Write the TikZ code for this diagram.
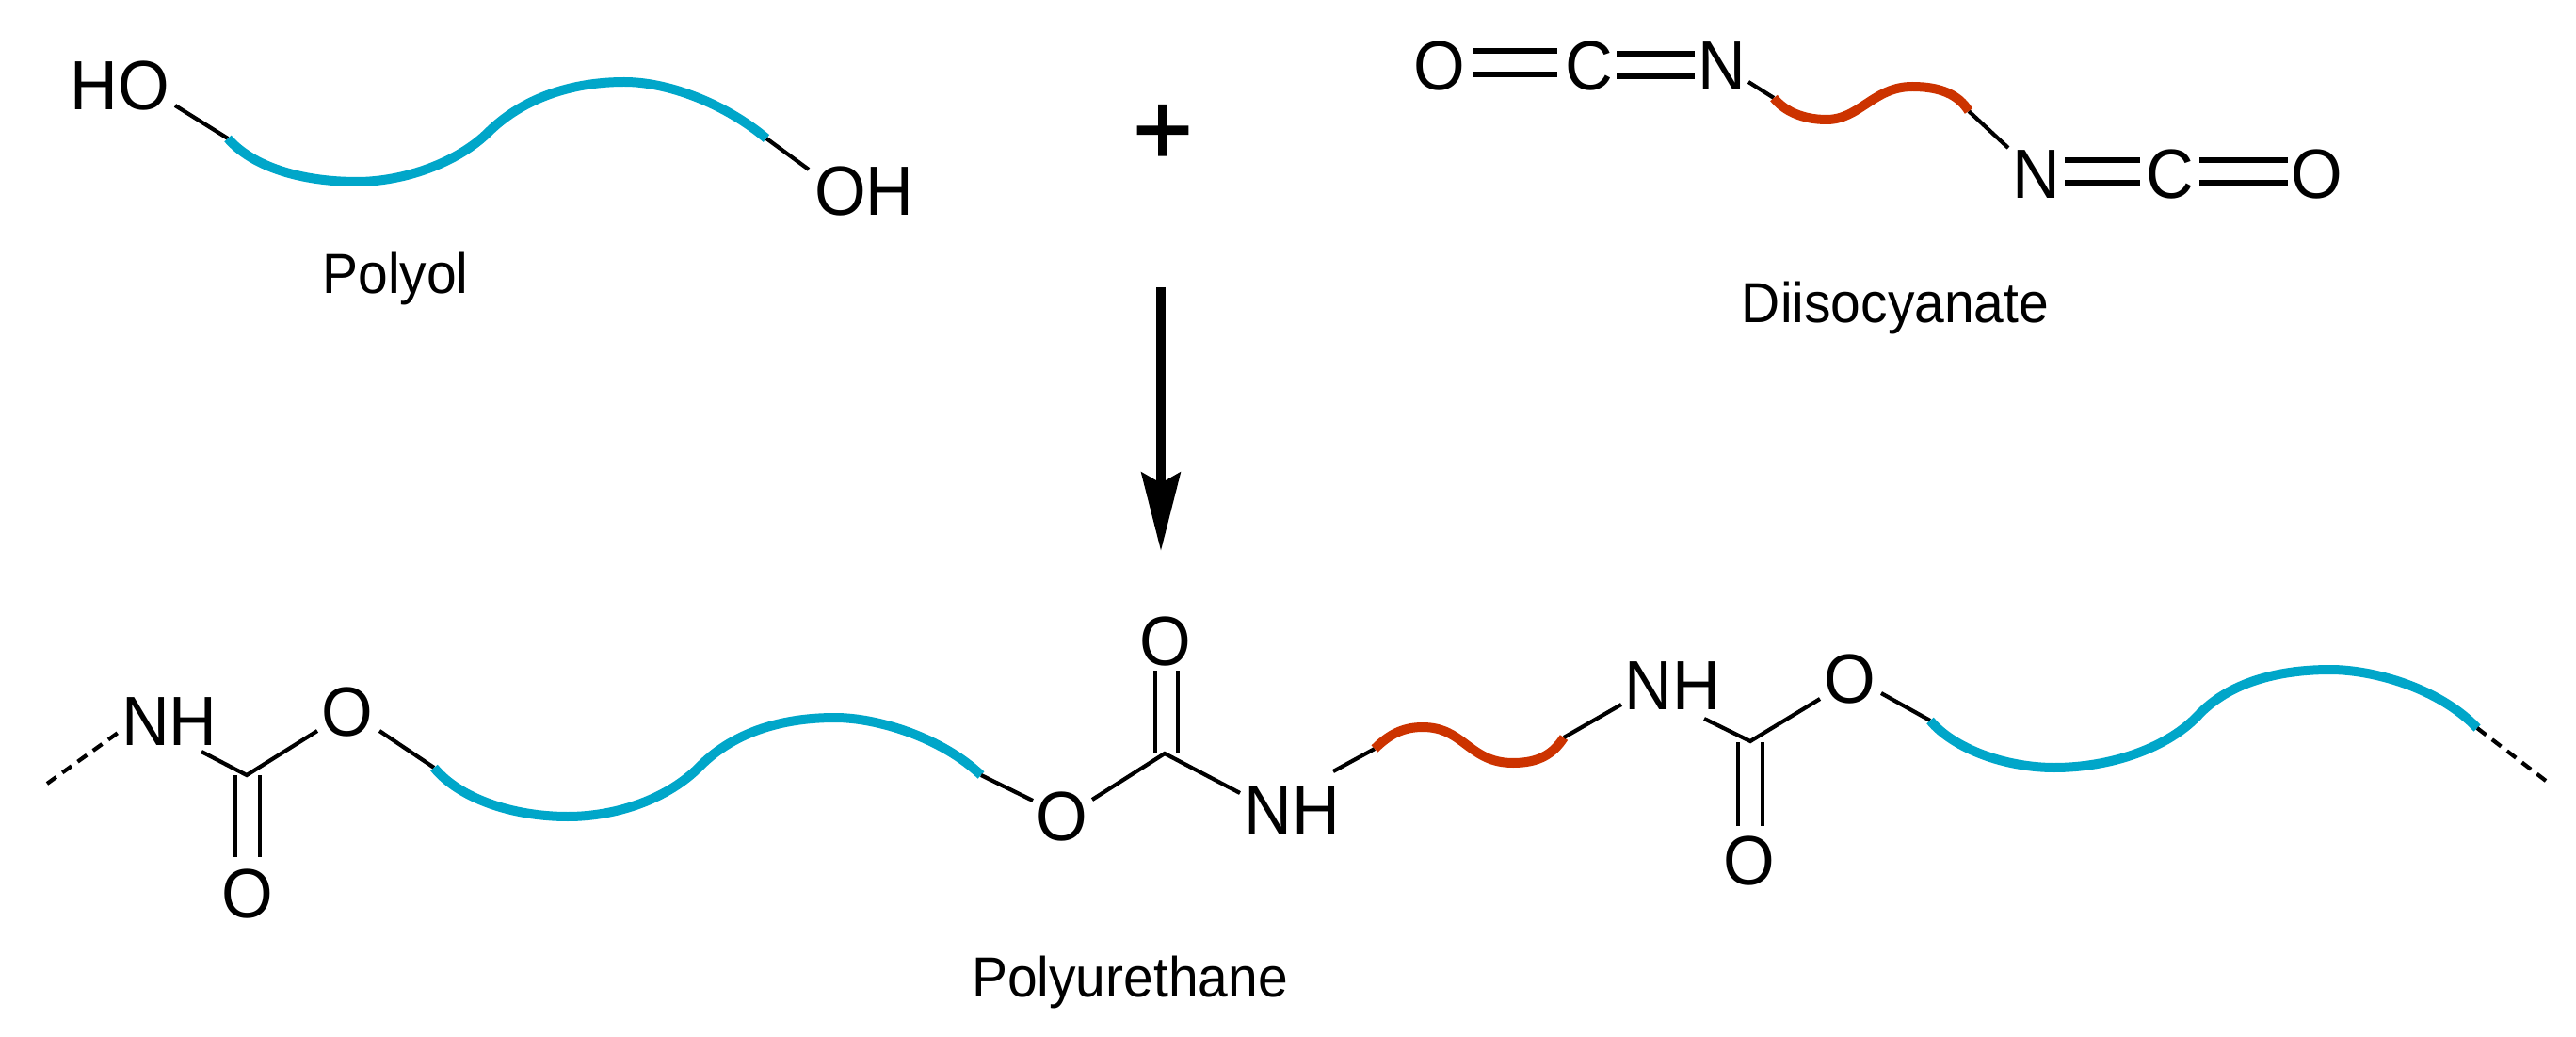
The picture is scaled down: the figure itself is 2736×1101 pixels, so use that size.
\documentclass[tikz,border=0pt]{standalone}
\usepackage{fontspec}
\setmainfont[FakeStretch=0.95]{Liberation Sans}
\newfontfamily\plusfont[FakeBold=2]{Liberation Sans}
\usetikzlibrary{arrows.meta}
\definecolor{polyolblue}{HTML}{00A6C9}
\definecolor{isored}{HTML}{CC3300}
\tikzset{
  atom/.style={inner sep=0pt,anchor=base,font=\fontsize{37}{37}\selectfont},
  caption/.style={inner sep=0pt,anchor=base,font=\fontsize{30}{30}\selectfont},
  bond/.style={line width=2.1pt,black},
  dblbond/.style={line width=2.9pt,black},
  openend/.style={line width=2.1pt,black,dash pattern=on 6pt off 4pt},
  polyolchain/.style={line width=5pt,polyolblue},
  isochain/.style={line width=5pt,isored},
  reaction/.style={line width=5pt,black,-{Stealth[length=41.5pt,width=20.5pt,inset=5.5pt]}}
}
\begin{document}
\begin{tikzpicture}[x=0.5pt,y=-0.5pt]
\useasboundingbox (0,0) rectangle (2736,1101);

% ---- Polyol
\node[atom] (ho) at (127,117) {HO};
\node[atom] (oh) at (918,229) {OH};
\node[caption] (polyol) at (420,312) {Polyol};
\coordinate (p1s) at (242,147);
\coordinate (p1m) at (379,193);
\coordinate (p1i) at (519,140);
\coordinate (p1x) at (663,87);
\coordinate (p1e) at (814,147);
\coordinate (hoEnd) at (186,112);
\coordinate (ohEnd) at (859,180);
\draw[bond] (hoEnd) -- (p1s);
\draw[bond] (p1e) -- (ohEnd);
\draw[polyolchain] (p1s) .. controls (268,177) and (320,193) .. (p1m)
  .. controls (430,193) and (487,172) .. (p1i)
  .. controls (560,100) and (615,87) .. (p1x)
  .. controls (710,87) and (770,110) .. (p1e);

% ---- Plus and arrow
\node[inner sep=0pt,font=\plusfont\fontsize{54}{54}\selectfont] (plus) at (1235,143) {+};
\coordinate (arrowStart) at (1233,305);
\coordinate (arrowTip) at (1233,585);
\draw[reaction] (arrowStart) -- (arrowTip);

% ---- Diisocyanate
\node[atom] (o1) at (1529,96) {O};
\node[atom] (c1) at (1688,96) {C};
\node[atom] (n1) at (1829,96) {N};
\node[atom] (n2) at (2163,211) {N};
\node[atom] (c2) at (2305,211) {C};
\node[atom] (o2) at (2461,211) {O};
\node[caption] (diiso) at (2013,343) {Diisocyanate};
\coordinate (d1a) at (1565,54); \coordinate (d1b) at (1654,54);
\coordinate (d2a) at (1565,79); \coordinate (d2b) at (1654,79);
\coordinate (d3a) at (1717,57); \coordinate (d3b) at (1800,57);
\coordinate (d4a) at (1717,81); \coordinate (d4b) at (1800,81);
\coordinate (d5a) at (2193,170); \coordinate (d5b) at (2273,170);
\coordinate (d6a) at (2193,194); \coordinate (d6b) at (2273,194);
\coordinate (d7a) at (2336,170); \coordinate (d7b) at (2430,170);
\coordinate (d8a) at (2336,194); \coordinate (d8b) at (2430,194);
\foreach \k in {1,...,8} \draw[dblbond] (d\k a) -- (d\k b);
\coordinate (r1s) at (1884,104);
\coordinate (r1m) at (1940,127);
\coordinate (r1x) at (2031,92);
\coordinate (r1e) at (2091,118);
\coordinate (n1End) at (1857,87);
\coordinate (n2End) at (2133,157);
\draw[bond] (n1End) -- (r1s);
\draw[bond] (r1e) -- (n2End);
\draw[isochain] (r1s) .. controls (1895,118) and (1915,127) .. (r1m)
  .. controls (1975,127) and (1990,92) .. (r1x)
  .. controls (2060,92) and (2080,100) .. (r1e);

% ---- Polyurethane, left urethane
\node[atom] (nhA) at (180,791) {NH};
\node[atom] (oA) at (369,781) {O};
\node[atom] (odA) at (263,974) {O};
\coordinate (endL) at (50,832);
\coordinate (nhAw) at (128,776);
\coordinate (nhAs) at (214,798);
\coordinate (cA) at (262,823);
\coordinate (oAw) at (337,776);
\coordinate (oAe) at (403,776);
\coordinate (c2s) at (461,815);
\coordinate (c2m) at (603,867);
\coordinate (c2i) at (744,813);
\coordinate (c2x) at (887,762);
\coordinate (c2e) at (1042,823);
\coordinate (dAla) at (250,823); \coordinate (dAlb) at (250,910);
\coordinate (dAra) at (276,823); \coordinate (dArb) at (276,910);
\draw[openend] (endL) -- (nhAw);
\draw[bond,line join=miter] (nhAs) -- (cA) -- (oAw);
\draw[bond] (dAla) -- (dAlb);
\draw[bond] (dAra) -- (dArb);
\draw[bond] (oAe) -- (c2s);
\draw[polyolchain] (c2s) .. controls (488,848) and (545,867) .. (c2m)
  .. controls (655,867) and (710,848) .. (c2i)
  .. controls (782,775) and (835,762) .. (c2x)
  .. controls (932,762) and (1000,783) .. (c2e);

% ---- Central urethane
\node[atom] (oB) at (1128,892) {O};
\node[atom] (odB) at (1238,706) {O};
\node[atom] (nhB) at (1372,885) {NH};
\coordinate (oBw) at (1097,850);
\coordinate (oBe) at (1160,849);
\coordinate (cB) at (1237,800);
\coordinate (nhBw) at (1317,842);
\coordinate (nhBn) at (1416,819);
\coordinate (dBla) at (1227,800); \coordinate (dBlb) at (1227,712);
\coordinate (dBra) at (1251,800); \coordinate (dBrb) at (1251,712);
\draw[bond] (c2e) -- (oBw);
\draw[bond,line join=miter] (oBe) -- (cB) -- (nhBw);
\draw[bond] (dBla) -- (dBlb);
\draw[bond] (dBra) -- (dBrb);

% ---- Isocyanate residue
\coordinate (r2s) at (1460,795);
\coordinate (r2x) at (1511,772);
\coordinate (r2m) at (1607,810);
\coordinate (r2e) at (1661,783);
\draw[bond] (nhBn) -- (r2s);
\draw[isochain] (r2s) .. controls (1475,780) and (1490,772) .. (r2x)
  .. controls (1555,772) and (1560,810) .. (r2m)
  .. controls (1635,810) and (1650,800) .. (r2e);

% ---- Right urethane
\node[atom] (nhC) at (1776,753) {NH};
\node[atom] (oC) at (1965,746) {O};
\node[atom] (odC) at (1858,939) {O};
\node[caption] (pu) at (1200,1058) {Polyurethane};
\coordinate (nhCw) at (1722,748);
\coordinate (nhCs) at (1810,763);
\coordinate (cC) at (1859,787);
\coordinate (oCw) at (1933,742);
\coordinate (oCe) at (1998,736);
\coordinate (dCla) at (1846,788); \coordinate (dClb) at (1846,877);
\coordinate (dCra) at (1872,788); \coordinate (dCrb) at (1872,877);
\coordinate (c3s) at (2050,765);
\coordinate (c3m) at (2182,815);
\coordinate (c3i) at (2337,757);
\coordinate (c3x) at (2475,711);
\coordinate (c3e) at (2631,773);
\coordinate (endR) at (2704,829);
\draw[bond] (r2e) -- (nhCw);
\draw[bond,line join=miter] (nhCs) -- (cC) -- (oCw);
\draw[bond] (dCla) -- (dClb);
\draw[bond] (dCra) -- (dCrb);
\draw[bond] (oCe) -- (c3s);
\draw[polyolchain] (c3s) .. controls (2075,795) and (2130,815) .. (c3m)
  .. controls (2240,815) and (2303,795) .. (c3i)
  .. controls (2372,722) and (2425,711) .. (c3x)
  .. controls (2520,711) and (2590,730) .. (c3e);
\draw[openend] (c3e) -- (endR);
\end{tikzpicture}
\end{document}
